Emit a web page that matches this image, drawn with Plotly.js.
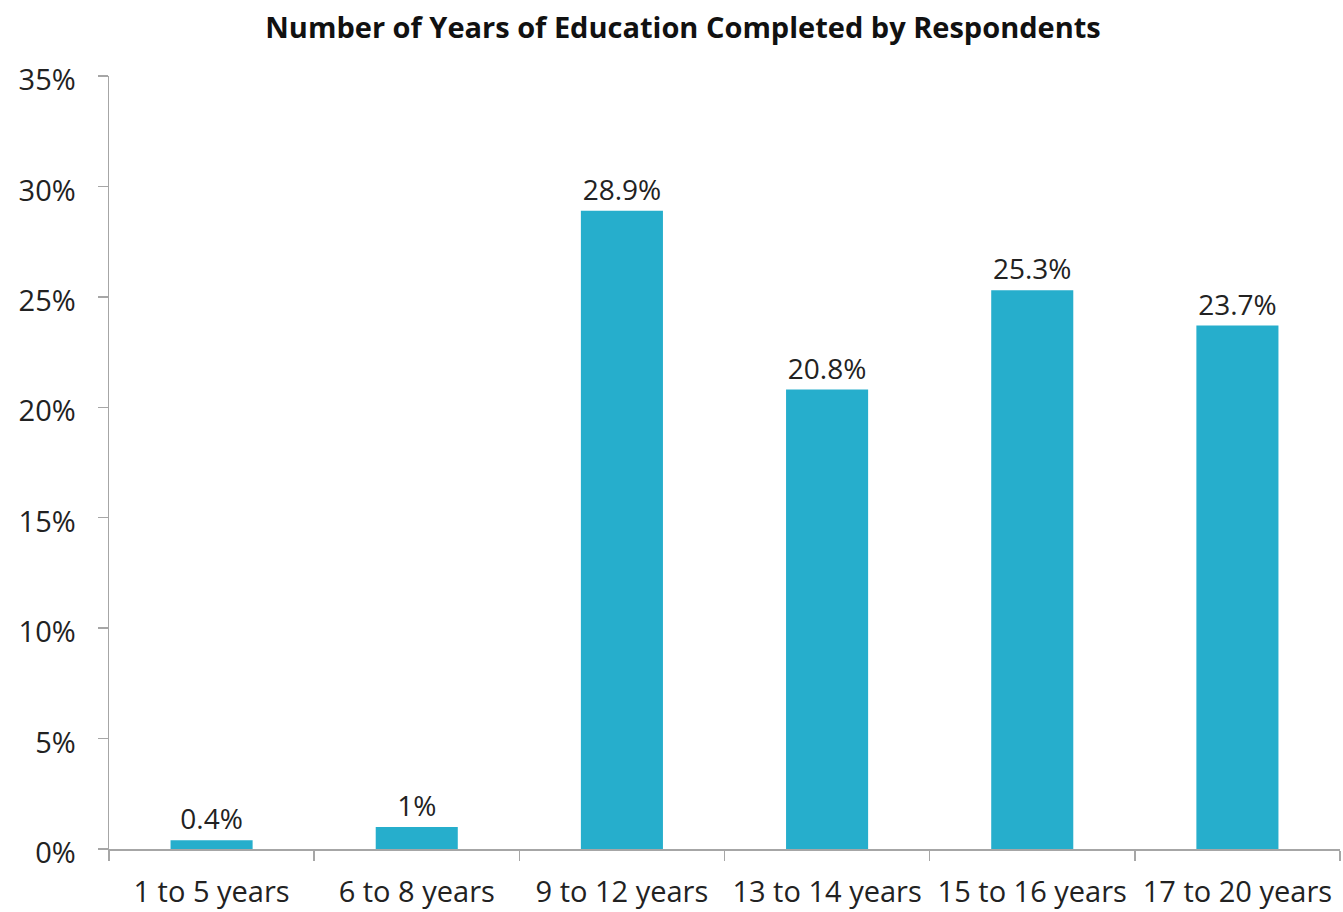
<!DOCTYPE html>
<html>
<head>
<meta charset="utf-8">
<script src="https://cdn.plot.ly/plotly-3.0.1.min.js"></script>
<style>html,body{margin:0;padding:0;background:#fff;}#chart{width:1343px;height:912px;}</style>
</head>
<body>
<div id="chart"></div>
<script>
const categories = ["1 to 5 years", "6 to 8 years", "9 to 12 years", "13 to 14 years", "15 to 16 years", "17 to 20 years"];
const values = [0.4, 1, 28.9, 20.8, 25.3, 23.7];
const labels = values.map(v => String(v) + "%");
const yTicks = [0, 5, 10, 15, 20, 25, 30, 35];

const trace = {
  type: "bar",
  x: categories,
  y: values,
  text: labels,
  textposition: "outside",
  cliponaxis: false,
  textfont: {family: "Open Sans, sans-serif", size: 28, color: "#222"},
  marker: {color: "#26AECC"},
  width: 0.4,
  hoverinfo: "x+y"
};

const layout = {
  width: 1343,
  height: 912,
  margin: {l: 109, r: 3, t: 76, b: 63},
  paper_bgcolor: "#fff",
  plot_bgcolor: "#fff",
  showlegend: false,
  title: {
    text: "<b>Number of Years of Education Completed by Respondents</b>",
    x: 0.5086, xanchor: "center", xref: "container",
    y: 0.969, yanchor: "middle", yref: "container",
    font: {family: "Open Sans, sans-serif", size: 29, color: "#111"}
  },
  xaxis: {
    type: "category",
    showline: true, linecolor: "#a6a6a6", linewidth: 1.5,
    ticks: "outside", tickson: "boundaries", ticklen: 10, tickcolor: "#a6a6a6", tickwidth: 1.5,
    showgrid: false, zeroline: false,
    tickfont: {family: "Open Sans, sans-serif", size: 29, color: "#222"},
    ticklabelstandoff: 17
  },
  yaxis: {
    range: [0, 35],
    tickvals: yTicks,
    ticktext: yTicks.map(t => t + "%"),
    showline: true, linecolor: "#a6a6a6", linewidth: 1.5,
    ticks: "outside", ticklen: 10, tickcolor: "#a6a6a6", tickwidth: 1.5,
    showgrid: false, zeroline: false,
    tickfont: {family: "Open Sans, sans-serif", size: 29, color: "#222"},
    ticklabelstandoff: 16,
    ticklabelshift: 4
  }
};

Plotly.newPlot("chart", [trace], layout, {displayModeBar: false, staticPlot: true});
</script>
</body>
</html>
